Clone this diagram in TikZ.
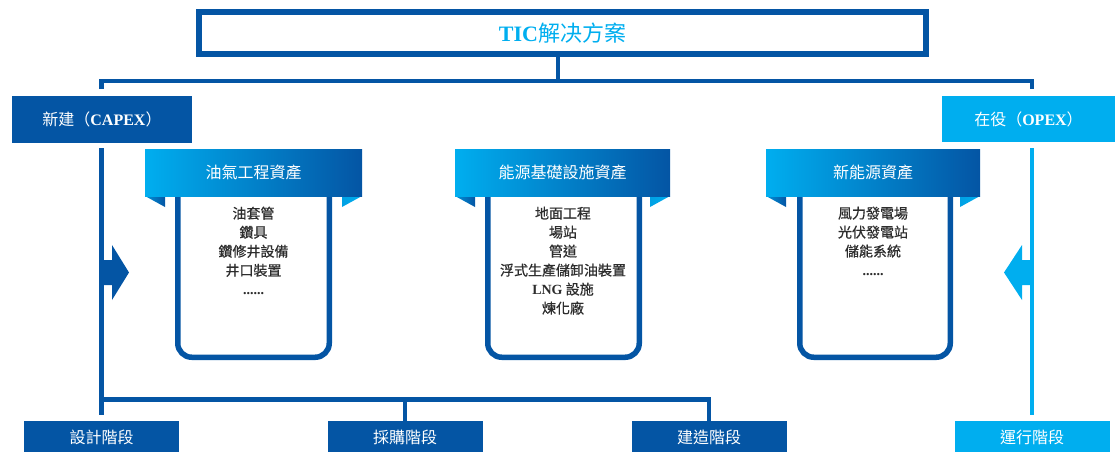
\documentclass[tikz,border=0pt]{standalone}
\usepackage{fontspec}
\setmainfont{Liberation Serif}
\newfontfamily\cjk{Noto Sans CJK TC}
\newfontfamily\cjkm[FakeBold=0.6]{Noto Sans CJK TC}
\definecolor{dblue}{RGB}{4,85,164}
\definecolor{cyanb}{RGB}{0,174,239}
\definecolor{tgray}{RGB}{45,45,45}
\tikzset{
 conn/.style={draw=dblue, line width=4.5pt},
 dbox/.style={fill=dblue, text=white, inner sep=0pt, font=\cjk\fontsize{16}{16}\selectfont},
 cbox/.style={dbox, fill=cyanb},
 hdr/.style={left color=cyanb, right color=dblue, text=white, inner sep=0pt, minimum height=47pt, font=\cjk\fontsize{16}{16}\selectfont},
 cardbody/.style={draw=dblue, line width=5.5pt, rounded corners=14pt, fill=white},
 items/.style={text=tgray, align=center, inner sep=0pt, anchor=north, font=\cjkm\fontsize{14}{19}\selectfont},
 foldl/.style={left color=cyanb!70!dblue, right color=dblue},
 foldr/.style={left color=cyanb!85!dblue, right color=cyanb},
}
\begin{document}
\begin{tikzpicture}[x=1pt,y=-1pt]
\useasboundingbox (0,0) rectangle (1115,451);
% top box
\node[draw=dblue, line width=6pt, minimum width=727pt, minimum height=42pt, inner sep=0pt,
  font=\fontsize{22}{22}\selectfont, text=cyanb] (top) at (562.5,33) {{\bfseries TIC}{\cjk 解决方案}};
\coordinate (j) at (558,81);
\coordinate (hl) at (101.5,81);
\coordinate (hr) at (1032,81);
\coordinate (cl) at (101.5,89);
\coordinate (cr) at (1032,89);
\draw[conn] (top.south -| j) -- (j);
\draw[conn] (cl) -- (hl) -- (hr) -- (cr);
% phase boxes
\node[dbox, minimum width=180pt, minimum height=47pt] (capex) at (102,119.5) {新建（{\rmfamily\bfseries CAPEX}）};
\node[cbox, minimum width=173pt, minimum height=46pt] (opex) at (1028.5,119) {在役（{\rmfamily\bfseries OPEX}）};
% bottom boxes
\node[dbox, minimum width=155pt, minimum height=32pt] (design) at (101.5,437) {設計階段};
\node[dbox, minimum width=155pt, minimum height=32pt] (proc) at (405,437) {採購階段};
\node[dbox, minimum width=155pt, minimum height=32pt] (build) at (709,437) {建造階段};
\node[cbox, minimum width=155pt, minimum height=32pt] (oper) at (1032,437) {運行階段};
% vertical lines
\draw[conn] ([yshift=6pt]design.north) -- (design.north |- 0,148);
\coordinate (hb) at (101.5,399.5);
\draw[conn] (hb) -| (build.north);
\draw[conn] (proc.north) -- (proc.north |- hb);
\draw[conn, draw=cyanb] ([yshift=6pt]oper.north) -- (oper.north |- 0,148);
% block arrows
\fill[dblue] (101,260) -- (112,260) -- (112,245) -- (129,272.5) -- (112,300) -- (112,285) -- (101,285) -- cycle;
\fill[cyanb] (1032,260) -- (1022,260) -- (1022,245) -- (1004,272.5) -- (1022,300) -- (1022,285) -- (1032,285) -- cycle;
% card 1
\draw[cardbody] (177.75,175) rectangle (329.25,357.25);
\shade[foldl] (145,196) -- (165,196) -- (165,207) -- cycle;
\shade[foldr] (342,196) -- (362,196) -- (342,207) -- cycle;
\node[hdr, minimum width=217pt] (h1) at (253.5,172.5) {油氣工程資產};
\node[items] (t1) at (253.5,206.5) {油套管\\鑽具\\鑽修井設備\\井口裝置\\{\rmfamily\bfseries ......}};
% card 2
\draw[cardbody] (487.75,175) rectangle (639.25,357.25);
\shade[foldl] (455,196) -- (475,196) -- (475,207) -- cycle;
\shade[foldr] (650,196) -- (670,196) -- (650,207) -- cycle;
\node[hdr, minimum width=215pt] (h2) at (562.5,172.5) {能源基礎設施資產};
\node[items] (t2) at (563,206.5) {地面工程\\場站\\管道\\浮式生產儲卸油裝置\\{\rmfamily\bfseries LNG} 設施\\煉化廠};
% card 3
\draw[cardbody] (799.75,175) rectangle (950.25,357.25);
\shade[foldl] (766,196) -- (786,196) -- (786,207) -- cycle;
\shade[foldr] (960,196) -- (980,196) -- (960,207) -- cycle;
\node[hdr, minimum width=214pt] (h3) at (873,172.5) {新能源資產};
\node[items] (t3) at (873,206.5) {風力發電場\\光伏發電站\\儲能系統\\{\rmfamily\bfseries ......}};
\end{tikzpicture}
\end{document}
